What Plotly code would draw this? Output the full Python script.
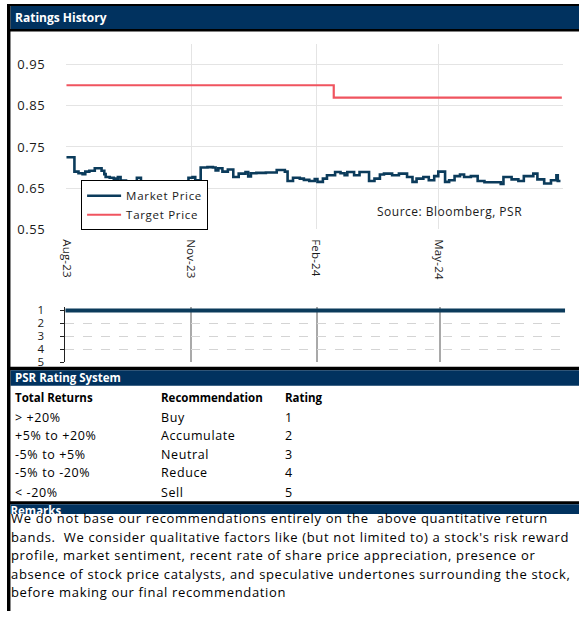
import plotly.graph_objects as go

W, H = 579, 620

# ---- data -------------------------------------------------------------
price_dates = [
    "2023-08-01", "2023-08-07", "2023-08-10", "2023-08-13", "2023-08-15",
    "2023-08-18", "2023-08-22", "2023-08-27", "2023-08-29", "2023-08-30",
    "2023-09-02", "2023-09-05", "2023-09-08", "2023-09-10", "2023-09-14",
    "2023-09-19", "2023-09-22", "2023-09-25", "2023-10-02", "2023-10-09",
    "2023-10-16", "2023-10-24", "2023-10-30", "2023-11-02", "2023-11-04",
    "2023-11-08", "2023-11-13", "2023-11-17", "2023-11-19", "2023-11-21",
    "2023-11-24", "2023-11-28", "2023-12-02", "2023-12-06", "2023-12-11",
    "2023-12-13", "2023-12-15", "2023-12-19", "2023-12-26", "2024-01-03",
    "2024-01-09", "2024-01-11", "2024-01-15", "2024-01-20", "2024-01-23",
    "2024-01-27", "2024-01-31", "2024-02-02", "2024-02-06", "2024-02-09",
    "2024-02-15", "2024-02-19", "2024-02-22", "2024-02-24", "2024-02-29",
    "2024-03-04", "2024-03-11", "2024-03-15", "2024-03-19", "2024-03-22",
    "2024-03-28", "2024-04-02", "2024-04-08", "2024-04-12", "2024-04-15",
    "2024-04-20", "2024-04-24", "2024-04-28", "2024-05-01", "2024-05-06",
    "2024-05-09", "2024-05-13", "2024-05-17", "2024-05-20", "2024-05-25",
    "2024-05-30", "2024-06-04", "2024-06-16", "2024-06-18", "2024-06-24",
    "2024-06-29", "2024-07-03", "2024-07-10", "2024-07-13", "2024-07-18",
    "2024-07-23", "2024-07-27", "2024-07-28", "2024-07-30",
]
price_values = [
    0.725, 0.690, 0.686, 0.684, 0.690,
    0.692, 0.698, 0.692, 0.684, 0.677,
    0.675, 0.673, 0.677, 0.668, 0.666,
    0.664, 0.675, 0.664, 0.662, 0.665,
    0.660, 0.663, 0.675, 0.677, 0.669,
    0.700, 0.701, 0.700, 0.693, 0.698,
    0.690, 0.695, 0.677, 0.685, 0.689,
    0.678, 0.686, 0.687, 0.688, 0.694,
    0.690, 0.667, 0.675, 0.673, 0.670,
    0.667, 0.672, 0.665, 0.673, 0.681,
    0.689, 0.686, 0.681, 0.689, 0.681,
    0.689, 0.667, 0.673, 0.683, 0.685,
    0.681, 0.685, 0.677, 0.665, 0.673,
    0.677, 0.669, 0.679, 0.690, 0.665,
    0.669, 0.679, 0.683, 0.677, 0.679,
    0.667, 0.664, 0.660, 0.677, 0.671,
    0.667, 0.679, 0.685, 0.671, 0.661,
    0.669, 0.681, 0.667, 0.667,
]

target_dates = ["2023-08-01", "2024-02-14", "2024-07-31"]
target_values = [0.90, 0.87, 0.87]

rating_dates = ["2023-08-01", "2024-08-01"]
rating_values = [1, 1]

y_ticks = [0.55, 0.65, 0.75, 0.85, 0.95]
x_tick_dates = ["2023-08-01", "2023-11-01", "2024-02-01", "2024-05-01", "2024-08-01"]
x_tick_labels = ["Aug-23", "Nov-23", "Feb-24", "May-24", ""]
rating_ticks = [1, 2, 3, 4, 5]

table_header = ["Total Returns", "Recommendation", "Rating"]
return_bands = ["> +20%", "+5% to +20%", "-5% to +5%", "-5% to -20%", "< -20%"]
recommendations = ["Buy", "Accumulate", "Neutral", "Reduce", "Sell"]
rating_codes = ["1", "2", "3", "4", "5"]

remarks_lines = [
    "We do not base our recommendations entirely on the  above quantitative return",
    "bands.  We consider qualitative factors like (but not limited to) a stock's risk reward",
    "profile, market sentiment, recent rate of share price appreciation, presence or",
    "absence of stock price catalysts, and speculative undertones surrounding the stock,",
    "before making our final recommendation",
]

# ---- styling ----------------------------------------------------------
NAVY = "#01325f"
PRICE_COLOR = "#0b3b5b"
TARGET_COLOR = "#f0545f"
GRID = "#e4e4e4"
FONT = "Open Sans"
TEXT = "#1a1a1a"


def px(x):
    return x / W


def py(y):
    return 1 - y / H


def spaced(text, ls):
    return f"<span style='letter-spacing:{ls}px'>{text}</span>"


fig = go.Figure()

# price chart
fig.add_trace(go.Scatter(
    x=price_dates, y=price_values, name=spaced("Market Price", 0.7), mode="lines",
    line=dict(color=PRICE_COLOR, width=2.6, shape="hv"),
    xaxis="x", yaxis="y",
))
fig.add_trace(go.Scatter(
    x=target_dates, y=target_values, name=spaced("Target Price", 0.7), mode="lines",
    line=dict(color=TARGET_COLOR, width=2.2, shape="hv"),
    xaxis="x", yaxis="y",
))

# rating history strip
fig.add_trace(go.Scatter(
    x=rating_dates, y=rating_values, mode="lines", showlegend=False,
    line=dict(color=PRICE_COLOR, width=4),
    xaxis="x2", yaxis="y2",
))

# "Remarks" caption, clipped by its band
fig.add_trace(go.Scatter(
    x=[0.0], y=[0.2], mode="text", text=["<b>Remarks</b>"],
    textposition="middle right", showlegend=False, cliponaxis=True,
    textfont=dict(family=FONT, size=11.5, color="white"),
    xaxis="x3", yaxis="y3", hoverinfo="skip",
))

shapes = []
band = dict(type="rect", xref="paper", yref="paper", line_width=0, layer="below")
shapes.append(dict(band, x0=0, x1=1, y0=py(2), y1=py(0), fillcolor="black"))
shapes.append(dict(band, x0=px(3.5), x1=1, y0=py(25.5), y1=py(2), fillcolor=NAVY))
shapes.append(dict(band, x0=0, x1=1, y0=py(28), y1=py(25.5), fillcolor="black"))
shapes.append(dict(band, x0=0, x1=1, y0=py(374), y1=py(370.5), fillcolor="black"))
shapes.append(dict(band, x0=px(3.5), x1=1, y0=py(390), y1=py(374), fillcolor=NAVY))
shapes.append(dict(band, x0=0, x1=1, y0=py(511), y1=py(508), fillcolor="black"))
shapes.append(dict(band, x0=px(3.5), x1=1, y0=py(521), y1=py(511), fillcolor=NAVY))
shapes.append(dict(band, x0=0, x1=px(3.5), y0=0, y1=1, fillcolor="black", layer="above"))

annotations = []


def note(text, x, y, size, color="black", ls=0.0, bold=False):
    body = f"<b>{text}</b>" if bold else text
    if ls:
        body = spaced(body, ls)
    annotations.append(dict(
        text=body, xref="paper", yref="paper", x=px(x), y=py(y),
        xanchor="left", yanchor="middle", showarrow=False,
        font=dict(family=FONT, size=size, color=color),
    ))


note("Ratings History", 6, 14, 12, color="white", bold=True)
note("PSR Rating System", 6, 382, 11.5, color="white", bold=True)
note("Source: Bloomberg, PSR", 373, 212, 12, color=TEXT, ls=0.5)

col_x = [6, 154, 279]
for cx, label in zip(col_x, table_header):
    note(label, cx, 402, 11.5, bold=True)
row_y = [422, 441, 460, 479, 499]
for ry, band_txt, rec, code in zip(row_y, return_bands, recommendations, rating_codes):
    for cx, label in zip(col_x, (band_txt, rec, code)):
        note(label, cx, ry, 12.5, ls=0.6)

for i, line in enumerate(remarks_lines):
    note(line, 2, 525 + 19 * i, 13, ls=0.66)

fig.update_layout(
    width=W, height=H,
    margin=dict(l=0, r=0, t=0, b=0),
    paper_bgcolor="white",
    plot_bgcolor="rgba(0,0,0,0)",
    font=dict(family=FONT, size=12, color=TEXT),
    showlegend=True,
    legend=dict(
        x=px(75), y=py(180), xanchor="left", yanchor="top",
        bgcolor="white", bordercolor="black", borderwidth=1,
        font=dict(family=FONT, size=11.5, color=TEXT),
        itemwidth=34, tracegroupgap=0,
    ),
    xaxis=dict(
        domain=[px(60), px(563)], anchor="y", type="date",
        range=["2023-08-01", "2024-08-01"],
        tickmode="array", tickvals=x_tick_dates,
        ticktext=[spaced(t, 0.2) for t in x_tick_labels],
        tickangle=90, showgrid=True, gridcolor=GRID, gridwidth=1,
        showline=False, zeroline=False, ticks="", ticklabelstandoff=9,
        tickfont=dict(family=FONT, size=11.5, color=TEXT),
    ),
    yaxis=dict(
        domain=[py(230), py(41)], anchor="x",
        range=[0.55, 1.0], tickmode="array", tickvals=y_ticks,
        ticktext=[spaced(f"{v:.2f}", 0.6) for v in y_ticks],
        showgrid=True, gridcolor=GRID, gridwidth=1,
        showline=False, zeroline=False, ticks="", ticklabelstandoff=20,
        tickfont=dict(family=FONT, size=13, color=TEXT),
    ),
    xaxis2=dict(
        domain=[px(59), px(565)], anchor="y2", type="date",
        range=["2023-08-01", "2024-08-01"],
        tickmode="array", tickvals=x_tick_dates[1:4], showticklabels=False,
        showgrid=True, gridcolor="#a9a9a9", gridwidth=1.5,
        showline=False, zeroline=False, ticks="",
    ),
    yaxis2=dict(
        domain=[py(366), py(309)], anchor="x2",
        range=[5, 0.7], tickmode="array", tickvals=rating_ticks,
        showgrid=True, gridcolor="#d4d4d4", gridwidth=1, griddash="dash",
        showline=True, linecolor="#222222", linewidth=1,
        ticks="outside", ticklen=4, tickcolor="#222222",
        zeroline=False, ticklabelstandoff=14,
        tickfont=dict(family=FONT, size=11.5, color=TEXT),
    ),
    xaxis3=dict(domain=[px(3.5), 1], anchor="y3", range=[0, 1], visible=False,
                fixedrange=True),
    yaxis3=dict(domain=[py(521), py(511)], anchor="x3", range=[0, 1], visible=False,
                fixedrange=True),
    shapes=shapes,
    annotations=annotations,
)

fig.write_html("out.html")
